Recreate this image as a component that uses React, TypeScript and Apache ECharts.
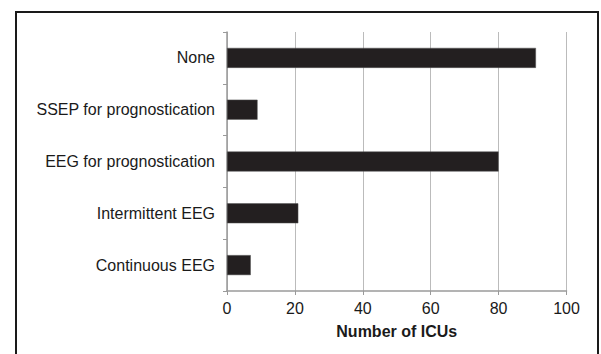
import React, { useEffect, useRef } from "react";
import * as echarts from "echarts";

const categories = [
  "Continuous EEG",
  "Intermittent EEG",
  "EEG for prognostication",
  "SSEP for prognostication",
  "None",
];
const values = [7, 21, 80, 9, 91];
const xTicks = [0, 20, 40, 60, 80, 100];
const xAxisTitle = "Number of ICUs";

export default function App() {
  const ref = useRef<HTMLDivElement>(null);
  useEffect(() => {
    if (!ref.current) return;
    const chart = echarts.init(ref.current, null, { renderer: "svg" });
    const font = "'Liberation Sans', Arial, sans-serif";
    chart.setOption({
      animation: false,
      backgroundColor: "#ffffff",
      graphic: [
        {
          type: "rect",
          shape: { x: 16, y: 12, width: 582, height: 360 },
          style: { fill: "none", stroke: "#1a1a1a", lineWidth: 2 },
          silent: true,
        },
      ],
      grid: { left: 227, right: 34.5, top: 32, bottom: 63, containLabel: false },
      xAxis: {
        type: "value",
        min: xTicks[0],
        max: xTicks[xTicks.length - 1],
        interval: 20,
        name: xAxisTitle,
        nameLocation: "middle",
        nameGap: 32,
        nameTextStyle: { fontFamily: font, fontSize: 16, fontWeight: "bold", color: "#1a1a1a" },
        axisLine: { show: true, lineStyle: { color: "#9a9a9a", width: 1.5 } },
        axisTick: { show: true, length: 4, lineStyle: { color: "#9a9a9a" } },
        axisLabel: { fontFamily: font, fontSize: 16, color: "#1a1a1a", margin: 9 },
        splitLine: { show: true, lineStyle: { color: "#bbbbbb", width: 1 } },
      },
      yAxis: {
        type: "category",
        data: categories,
        axisLine: { show: true, lineStyle: { color: "#9a9a9a", width: 1.5 } },
        axisTick: { show: true, length: 4, lineStyle: { color: "#9a9a9a" } },
        axisLabel: { fontFamily: font, fontSize: 16, color: "#1a1a1a", margin: 12 },
      },
      series: [
        {
          type: "bar",
          data: values,
          barWidth: 20,
          itemStyle: { color: "#231f20", borderColor: "#555555", borderWidth: 0.5 },
        },
      ],
    });
    return () => chart.dispose();
  }, []);
  return (
    <div
      ref={ref}
      style={{ position: "fixed", left: 0, top: 0, width: 601, height: 354 }}
    />
  );
}
